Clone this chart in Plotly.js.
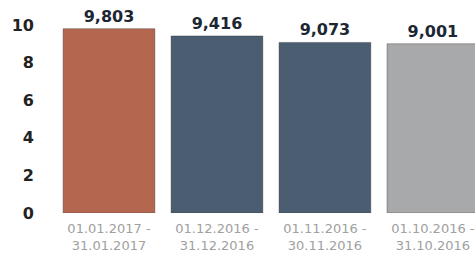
<!DOCTYPE html>
<html>
<head>
<meta charset="utf-8">
<script src="https://cdn.plot.ly/plotly-3.0.1.min.js"></script>
<style>html,body{margin:0;padding:0;background:#fff;}#chart{width:475px;height:255px;}</style>
</head>
<body>
<div id="chart"></div>
<script>
var categories = ["01.01.2017 -<br>31.01.2017", "01.12.2016 -<br>31.12.2016", "01.11.2016 -<br>30.11.2016", "01.10.2016 -<br>31.10.2016"];
var values = [9.803, 9.416, 9.073, 9.001];
var valueLabels = ["9,803", "9,416", "9,073", "9,001"];
var barColors = ["#b5664f", "#4b5d70", "#4b5d70", "#a8a9aa"];
var yTicks = [0, 2, 4, 6, 8, 10];

var trace = {
  type: "bar",
  x: [0, 1, 2, 3],
  y: values,
  text: valueLabels,
  textposition: "outside",
  cliponaxis: false,
  textfont: {family: "DejaVu Sans", size: 16, color: "#1c2733", weight: "bold"},
  marker: {color: barColors, line: {color: "rgba(40,40,40,0.35)", width: 1}},
  hoverinfo: "none"
};

var layout = {
  width: 475, height: 255,
  margin: {l: 55, r: 0, t: 15, b: 42},
  paper_bgcolor: "#ffffff", plot_bgcolor: "#ffffff",
  bargap: 0.15,
  showlegend: false,
  xaxis: {
    range: [-0.5, 3.39],
    tickmode: "array", tickvals: [0, 1, 2, 3], ticktext: categories,
    showgrid: false, zeroline: false, showline: false, ticks: "",
    ticklabelstandoff: 6,
    tickfont: {family: "DejaVu Sans", size: 13, color: "#a0a0a0"}
  },
  yaxis: {
    range: [0, 10.53],
    tickmode: "array", tickvals: yTicks,
    showgrid: false, zeroline: false, showline: false, ticks: "",
    ticklabelstandoff: 20,
    tickfont: {family: "DejaVu Sans", size: 16, color: "#222222", weight: "bold"}
  }
};

Plotly.newPlot("chart", [trace], layout, {displayModeBar: false, staticPlot: true});
</script>
</body>
</html>
